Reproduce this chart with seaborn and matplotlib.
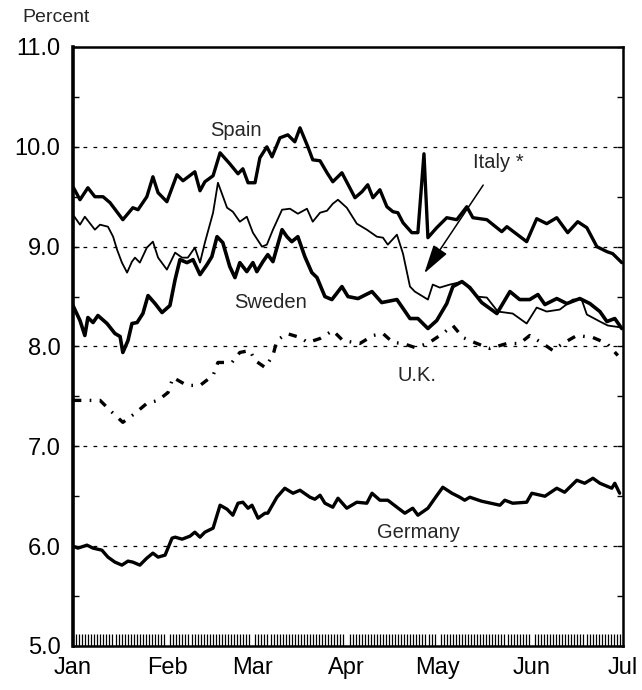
import numpy as np
import pandas as pd
import seaborn as sns
from matplotlib import pyplot as plt

## DATA ##
# x = days since Jan 1 (Jul 1 = 181), y = yield in percent
spain_day = [0, 2.3, 4.9, 7.2, 9.9, 12.2, 16.4, 19.7, 21.4, 24.3, 26.3, 28.0, 30.9, 34.2, 36.2,
             40.1, 41.8, 43.4, 46.1, 48.4, 51.6, 54.3, 55.9, 57.6, 59.9, 61.5, 63.8, 65.5, 68.1, 70.7,
             73.0, 74.7, 77.3, 78.9, 81.3, 83.6, 85.5, 88.5, 92.8, 95.1, 97.0, 98.7, 101.0, 103.3, 105.3,
             106.9, 108.6, 111.5, 113.5, 115.5, 116.8, 119.7, 123.0, 126.3, 129.6, 131.6, 136.2, 141.1, 142.8, 149.3,
             152.6, 155.9, 159.2, 162.8, 166.1, 169.1, 172.4, 175.7, 177.6, 180.6]
spain_val = [9.60, 9.47, 9.59, 9.50, 9.50, 9.44, 9.27, 9.39, 9.37, 9.50, 9.70, 9.54, 9.45, 9.72, 9.66,
             9.75, 9.56, 9.65, 9.71, 9.94, 9.83, 9.73, 9.78, 9.64, 9.64, 9.89, 10.00, 9.90, 10.09, 10.12,
             10.05, 10.19, 10.00, 9.87, 9.86, 9.74, 9.65, 9.74, 9.49, 9.55, 9.62, 9.49, 9.57, 9.40, 9.35,
             9.34, 9.24, 9.14, 9.14, 9.93, 9.09, 9.19, 9.29, 9.27, 9.40, 9.29, 9.27, 9.15, 9.20, 9.05,
             9.28, 9.23, 9.29, 9.14, 9.25, 9.19, 9.00, 8.95, 8.93, 8.84]

italy_day = [0, 2.3, 3.9, 7.2, 8.9, 11.5, 13.2, 14.5, 16.1, 17.8, 19.4, 20.4, 22.0, 24.3, 26.3,
             28.0, 30.9, 33.6, 35.9, 37.8, 40.1, 41.8, 43.4, 46.1, 47.7, 50.7, 52.6, 54.9, 57.2, 59.2,
             62.2, 63.8, 65.8, 68.8, 71.4, 74.0, 77.0, 78.9, 81.3, 83.6, 85.5, 87.2, 90.1, 93.4, 96.7,
             100.0, 102.0, 103.6, 106.6, 108.6, 110.9, 112.5, 116.8, 118.4, 120.7, 124.0, 128.3, 132.9, 136.2, 139.8,
             144.7, 149.3, 152.6, 155.9, 160.2, 164.5, 167.4, 169.1, 173.4, 176.0, 180.6]
italy_val = [9.32, 9.22, 9.30, 9.17, 9.22, 9.20, 9.10, 8.97, 8.84, 8.74, 8.85, 8.89, 8.84, 8.99, 9.05,
             8.89, 8.77, 8.94, 8.89, 8.89, 8.99, 8.84, 9.04, 9.34, 9.64, 9.39, 9.35, 9.25, 9.30, 9.14,
             9.00, 9.02, 9.17, 9.37, 9.38, 9.33, 9.38, 9.25, 9.34, 9.36, 9.43, 9.47, 9.39, 9.23, 9.17,
             9.10, 9.09, 9.02, 9.12, 8.93, 8.60, 8.55, 8.47, 8.62, 8.59, 8.62, 8.65, 8.50, 8.49, 8.35,
             8.33, 8.23, 8.39, 8.35, 8.37, 8.47, 8.47, 8.32, 8.25, 8.21, 8.19]

sweden_day = [0, 2.3, 3.9, 4.9, 6.6, 8.2, 11.2, 13.8, 15.5, 16.4, 18.1, 19.4, 21.1, 23.0, 24.7,
              27.0, 29.3, 31.9, 33.6, 35.2, 37.5, 39.5, 41.8, 44.1, 45.7, 47.4, 49.3, 51.6, 53.3, 54.9,
              57.2, 59.2, 60.5, 62.5, 64.1, 65.8, 68.8, 70.4, 72.0, 74.0, 76.3, 78.6, 80.3, 82.9, 85.2,
              88.5, 90.5, 93.8, 98.4, 101.6, 106.6, 110.9, 113.5, 116.8, 119.7, 123.0, 125.0, 128.0, 130.6, 134.5,
              139.5, 143.8, 147.0, 150.3, 153.0, 155.3, 159.2, 162.5, 166.8, 170.1, 173.4, 175.7, 178.3, 180.6]
sweden_val = [8.41, 8.26, 8.11, 8.29, 8.24, 8.31, 8.23, 8.13, 8.10, 7.94, 8.06, 8.23, 8.24, 8.33, 8.51,
              8.43, 8.34, 8.41, 8.67, 8.87, 8.84, 8.87, 8.72, 8.82, 8.90, 9.10, 9.04, 8.80, 8.69, 8.84,
              8.75, 8.84, 8.75, 8.85, 8.92, 8.85, 9.17, 9.10, 9.05, 9.10, 8.90, 8.74, 8.69, 8.50, 8.47,
              8.60, 8.50, 8.48, 8.55, 8.44, 8.47, 8.28, 8.28, 8.18, 8.26, 8.43, 8.60, 8.65, 8.59, 8.44,
              8.33, 8.55, 8.47, 8.47, 8.52, 8.42, 8.48, 8.43, 8.48, 8.43, 8.35, 8.25, 8.28, 8.18]

uk_day = [0, 4.6, 8.9, 12.2, 16.4, 20.4, 24.3, 28.0, 31.3, 32.9, 37.5, 41.8, 46.1, 47.7, 52.3,
          54.9, 58.2, 59.9, 63.2, 65.8, 67.1, 70.4, 74.7, 77.3, 81.3, 85.5, 88.8, 94.4, 98.7, 102.0,
          105.3, 108.6, 112.5, 116.8, 121.7, 125.0, 128.3, 132.9, 137.2, 142.8, 147.0, 150.3, 154.6, 157.9, 161.2,
          165.8, 171.1, 175.7, 179.3]
uk_val = [7.46, 7.46, 7.46, 7.36, 7.24, 7.33, 7.43, 7.46, 7.54, 7.69, 7.61, 7.61, 7.71, 7.84, 7.84,
          7.94, 7.96, 7.86, 7.79, 7.91, 8.06, 8.13, 8.09, 8.04, 8.08, 8.16, 8.06, 8.03, 8.11, 8.13,
          8.04, 8.03, 7.99, 8.03, 8.13, 8.21, 8.09, 8.03, 7.98, 8.03, 8.03, 8.11, 8.03, 7.96, 8.03,
          8.11, 8.09, 8.03, 7.91]

germany_day = [0, 1.6, 4.6, 6.6, 9.5, 11.5, 13.8, 16.1, 18.1, 19.7, 22.0, 24.3, 26.3, 28.0, 30.3,
               32.6, 33.6, 35.9, 38.5, 40.1, 41.8, 43.4, 46.1, 48.4, 50.7, 52.6, 54.3, 55.9, 57.6, 58.9,
               60.9, 63.2, 64.1, 67.1, 69.7, 72.4, 74.7, 78.0, 79.6, 81.3, 82.9, 85.5, 87.2, 90.1, 93.4,
               96.7, 98.4, 101.0, 103.6, 106.6, 109.2, 111.8, 113.5, 116.8, 119.1, 121.7, 124.7, 127.3, 128.9, 130.6,
               134.5, 140.5, 142.1, 144.7, 149.3, 151.0, 155.3, 159.2, 161.8, 165.8, 168.4, 171.1, 173.4, 177.3, 178.3,
               179.9]
germany_val = [6.00, 5.98, 6.01, 5.98, 5.96, 5.89, 5.84, 5.81, 5.85, 5.84, 5.81, 5.88, 5.93, 5.89, 5.91,
               6.08, 6.09, 6.07, 6.10, 6.14, 6.09, 6.14, 6.18, 6.41, 6.37, 6.31, 6.43, 6.44, 6.38, 6.41,
               6.28, 6.33, 6.33, 6.49, 6.58, 6.53, 6.56, 6.49, 6.47, 6.51, 6.43, 6.39, 6.48, 6.38, 6.44,
               6.43, 6.53, 6.46, 6.46, 6.39, 6.33, 6.38, 6.31, 6.38, 6.48, 6.59, 6.53, 6.49, 6.46, 6.49,
               6.45, 6.41, 6.46, 6.43, 6.44, 6.53, 6.50, 6.58, 6.54, 6.66, 6.63, 6.68, 6.63, 6.58, 6.63,
               6.53]

months = ['Jan', 'Feb', 'Mar', 'Apr', 'May', 'Jun', 'Jul']
month_start = [0, 31, 59, 90, 120, 151, 181]
y_ticks = [5, 6, 7, 8, 9, 10, 11]
grid_levels = [6, 7, 8, 9, 10]

## SETTINGS ##
sns.set_theme(style='white')
plt.rcParams['font.family'] = ['Liberation Sans', 'DejaVu Sans']

fig = plt.figure(figsize=(6.42, 6.90), dpi=100)
ax = fig.add_axes([0.1137, 0.0638, 0.8567, 0.8681])

for lvl in grid_levels:
    ax.axhline(lvl, color='black', lw=0.9, ls=(0, (3, 5)), zorder=1)

sns.lineplot(x=spain_day, y=spain_val, ax=ax, color='black', lw=2.4)
sns.lineplot(x=italy_day, y=italy_val, ax=ax, color='black', lw=1.3)
sns.lineplot(x=sweden_day, y=sweden_val, ax=ax, color='black', lw=2.6)
sns.lineplot(x=germany_day, y=germany_val, ax=ax, color='black', lw=2.4)
sns.lineplot(x=uk_day, y=uk_val, ax=ax, color='black', lw=2.4,
             linestyle=(0, (2.5, 2.5, 0.5, 2.5)))

# series labels and the Italy arrow
ax.text(53.6, 10.16, 'Spain', ha='center', va='center', fontsize=14.5)
ax.text(140.1, 9.84, 'Italy *', ha='center', va='center', fontsize=14.5)
ax.text(65.1, 8.44, 'Sweden', ha='center', va='center', fontsize=14.5)
ax.text(113.2, 7.71, 'U.K.', ha='center', va='center', fontsize=14.5)
ax.text(113.8, 6.14, 'Germany', ha='center', va='center', fontsize=14.5)
ax.annotate('', xy=(115.1, 8.71), xytext=(135.5, 9.64),
            arrowprops=dict(arrowstyle='-|>,head_length=0.9,head_width=0.25',
                            color='black', lw=1.1, mutation_scale=20))

ax.set_xlim(0, 181)
ax.set_ylim(5, 11)
ax.set_xticks(month_start, months)
ax.set_yticks(y_ticks, [f'{v:.1f}' for v in y_ticks])

# daily tick marks along the bottom
ax.set_xticks(np.arange(1, 181), minor=True)
ax.set_yticks(np.arange(5.5, 11, 1.0), minor=True)

ax.tick_params(axis='x', which='major', length=0, pad=8, labelsize=17, colors='black')
ax.tick_params(axis='x', which='minor', bottom=True, direction='in', length=9, width=0.9, color='black')
ax.tick_params(axis='y', which='both', left=True, right=True, direction='in', length=4,
               width=1, color='black', pad=9, labelsize=17, labelcolor='black')

for side in ['top', 'right', 'bottom']:
    ax.spines[side].set_linewidth(1.8)
    ax.spines[side].set_color('black')
ax.spines['left'].set_linewidth(2.6)
ax.spines['left'].set_color('black')

ax.set_xlabel('')
ax.set_ylabel('')
fig.text(22 / 642, 1 - 18 / 690, 'Percent', fontsize=14, ha='left', va='center')

fig.savefig('out.png', dpi=100)
